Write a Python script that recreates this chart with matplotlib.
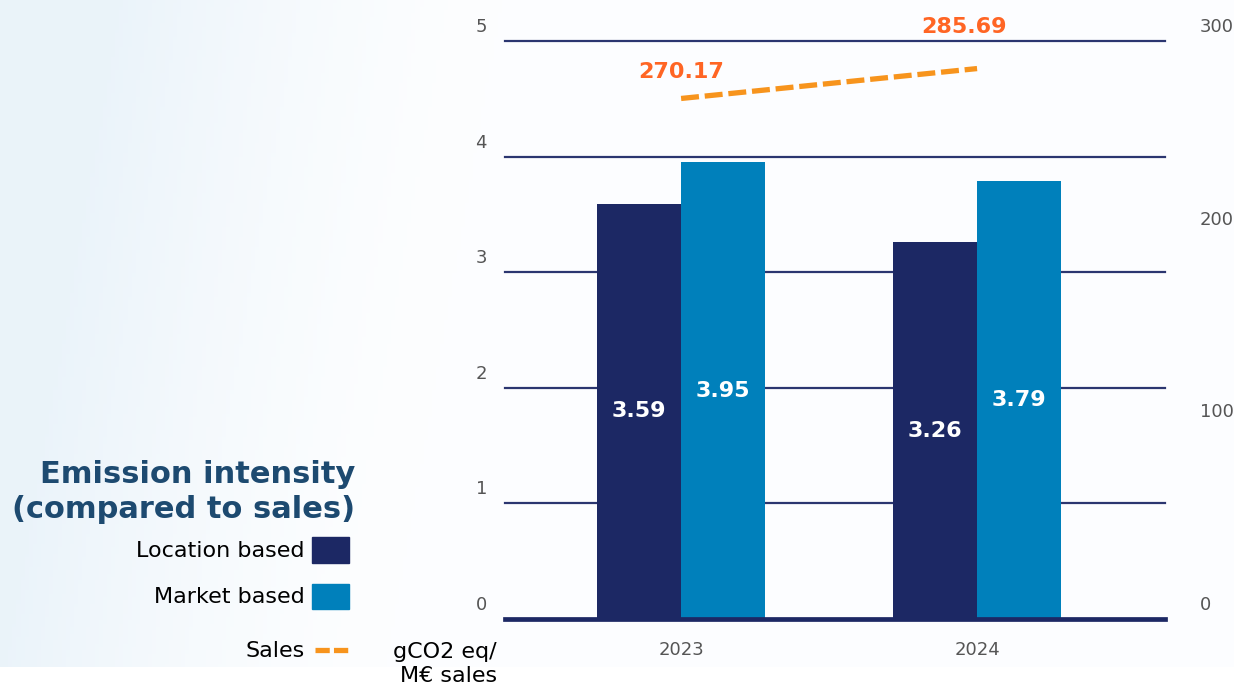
import numpy as np
import matplotlib
matplotlib.use('Agg')
import matplotlib.pyplot as plt
import matplotlib.transforms as mtransforms
from matplotlib.patches import Rectangle
from matplotlib.lines import Line2D

# emission intensity, gCO2 eq / M EUR sales
years = ['2023', '2024']
location_based = [3.59, 3.26]
market_based = [3.95, 3.79]
sales = [270.17, 285.69]

left_ticks = [0, 1, 2, 3, 4, 5]
right_ticks = [0, 100, 200, 300]

navy = '#1c2864'
blue = '#0080bb'
orange = '#f7941d'
label_orange = '#ff6524'
title_blue = '#1d4a70'
tick_grey = '#555555'

W, H = 1234, 689
fig = plt.figure(figsize=(W / 100, H / 100), dpi=100)

# faint pale-blue wash on the left of the page
bg = fig.add_axes([0, 22 / H, 1, 1 - 22 / H], zorder=-10)
gx = np.linspace(0, 1, 300)
gy = np.linspace(0, 1, 200)
X, Y = np.meshgrid(gx, gy)
shade = np.clip(1 - 3.2 * X + 0.3 * Y, 0, 1) ** 1.5
tint = np.array([0.92, 0.955, 0.98])
page = np.array([0.992, 0.996, 1.0])
img = page[None, None, :] * (1 - shade[..., None]) + tint[None, None, :] * shade[..., None]
bg.imshow(np.clip(img, 0, 1), aspect='auto', extent=[0, 1, 0, 1], origin='lower')
bg.axis('off')

ax = fig.add_axes([505 / W, 1 - 619 / H, 660 / W, 578 / H])
ax.patch.set_alpha(0)

x = np.arange(len(years))
w = 0.285
b1 = ax.bar(x - w / 2, location_based, w, color=navy, zorder=3)
b2 = ax.bar(x + w / 2, market_based, w, color=blue, zorder=3)
for bars in (b1, b2):
    ax.bar_label(bars, labels=[f'{v:.2f}' for v in bars.datavalues], label_type='center',
                 color='white', fontsize=16, fontweight='bold', zorder=4)

ax.set_xlim(-0.595, 1.635)
ax.set_ylim(0, 5)
ax.set_yticks(left_ticks)
ax.set_xticks(x)
ax.set_xticklabels(years)
for y in left_ticks[1:]:
    ax.axhline(y, color='#2b3670', lw=1.6, zorder=2, clip_on=False)
ax.axhline(0, color=navy, lw=3.4, zorder=5, clip_on=False)
for s in ax.spines.values():
    s.set_visible(False)
ax.tick_params(axis='y', length=0, pad=13, labelsize=13, labelcolor=tick_grey)
ax.tick_params(axis='x', length=0, pad=16, labelsize=13, labelcolor=tick_grey)

lift = mtransforms.ScaledTranslation(0, 16 / 100, fig.dpi_scale_trans)
for lbl in ax.get_yticklabels():
    lbl.set_transform(lbl.get_transform() + lift)

ax2 = ax.twinx()
ax2.set_ylim(0, 300)
ax2.set_yticks(right_ticks)
for s in ax2.spines.values():
    s.set_visible(False)
ax2.tick_params(axis='y', length=0, pad=25, labelsize=13, labelcolor=tick_grey)
for lbl in ax2.get_yticklabels():
    lbl.set_transform(lbl.get_transform() + lift)

dash = (0, (3.4, 1.1))
ax2.plot(x, sales, color=orange, lw=3.8, linestyle=dash, zorder=6)
ax2.annotate(f'{sales[0]:.2f}', (x[0], sales[0]), xytext=(0, 26), textcoords='offset pixels',
             ha='center', va='center', color=label_orange, fontsize=16, fontweight='bold')
ax2.annotate(f'{sales[1]:.2f}', (x[1], sales[1]), xytext=(-13, 42), textcoords='offset pixels',
             ha='center', va='center', color=label_orange, fontsize=16, fontweight='bold')

# legend block on the left
fig.text(355 / W, 1 - 492 / H, 'Emission intensity\n(compared to sales)', ha='right', va='center',
         color=title_blue, fontsize=22, fontweight='bold', linespacing=1.3)
fig.text(305 / W, 1 - 551 / H, 'Location based', ha='right', va='center', fontsize=16, color='black')
fig.text(305 / W, 1 - 597 / H, 'Market based', ha='right', va='center', fontsize=16, color='black')
fig.text(305 / W, 1 - 651 / H, 'Sales', ha='right', va='center', fontsize=16, color='black')
fig.patches.append(Rectangle((312 / W, 1 - 563 / H), 37 / W, 26 / H, color=navy,
                             transform=fig.transFigure, figure=fig))
fig.patches.append(Rectangle((312 / W, 1 - 609 / H), 37 / W, 25 / H, color=blue,
                             transform=fig.transFigure, figure=fig))
fig.lines.append(Line2D([315 / W, 349 / W], [1 - 650 / H, 1 - 650 / H], color=orange, lw=3.8,
                        linestyle=(0, (2.7, 0.8)), transform=fig.transFigure, figure=fig))
fig.text(497 / W, 1 - 664 / H, 'gCO2 eq/\nM€ sales', ha='right', va='center', fontsize=16,
         color='black', linespacing=1.25)

fig.savefig('out.png', dpi=100)
